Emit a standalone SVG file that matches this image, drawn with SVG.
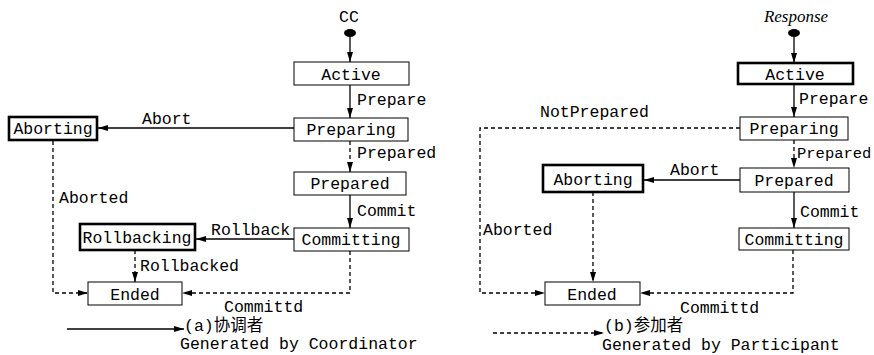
<svg xmlns="http://www.w3.org/2000/svg" width="874" height="355" viewBox="0 0 874 355">
<style>
text{font-family:"Liberation Mono","Noto Sans CJK SC",monospace;font-size:16.5px;fill:#000}
.c{text-anchor:middle}
.b{fill:#fff;stroke:#000;stroke-width:1}
.t{fill:#fff;stroke:#000;stroke-width:2.6}
.s{fill:none;stroke:#000;stroke-width:1.3}
.d{fill:none;stroke:#000;stroke-width:1.3;stroke-dasharray:4 3}
.it{font-family:"Liberation Serif",serif;font-style:italic;font-size:17px}
</style>
<defs>
<marker id="ah" viewBox="0 0 10 6" refX="10" refY="3" markerWidth="10" markerHeight="6" orient="auto" markerUnits="userSpaceOnUse"><path d="M0,0 L10,3 L0,6 z" fill="#000"/></marker>
</defs>
<g id="connectors">
<line class="s" x1="350" y1="37" x2="350" y2="62" marker-end="url(#ah)"/>
<line class="s" x1="350" y1="85" x2="350" y2="118" marker-end="url(#ah)"/>
<line class="s" x1="294" y1="128" x2="98" y2="128" marker-end="url(#ah)" stroke-width="1"/>
<line class="d" x1="350" y1="141" x2="350" y2="172" marker-end="url(#ah)"/>
<line class="s" x1="350" y1="195" x2="350" y2="228" marker-end="url(#ah)"/>
<line class="s" x1="294" y1="239" x2="196" y2="239" marker-end="url(#ah)" stroke-width="1"/>
<line class="d" x1="135" y1="250" x2="135" y2="282" marker-end="url(#ah)"/>
<polyline class="d" points="53,141 53,293 88,293" marker-end="url(#ah)"/>
<polyline class="d" points="350,251 350,293 182,293" marker-end="url(#ah)"/>
<line class="s" x1="67" y1="329" x2="184" y2="329" marker-end="url(#ah)" stroke-width="1"/>
<line class="s" x1="794" y1="37" x2="794" y2="63" marker-end="url(#ah)"/>
<line class="s" x1="794" y1="84" x2="794" y2="117" marker-end="url(#ah)"/>
<polyline class="d" points="740,128 480,128 480,293 545,293" marker-end="url(#ah)"/>
<line class="d" x1="794" y1="140" x2="794" y2="168" marker-end="url(#ah)"/>
<line class="s" x1="740" y1="180" x2="644" y2="180" marker-end="url(#ah)" stroke-width="1"/>
<line class="s" x1="794" y1="192" x2="794" y2="228" marker-end="url(#ah)"/>
<line class="d" x1="593" y1="192" x2="593" y2="282" marker-end="url(#ah)"/>
<polyline class="d" points="793,250 793,293 640,293" marker-end="url(#ah)"/>
<line class="d" x1="493" y1="333" x2="604" y2="333" marker-end="url(#ah)"/>
</g>
<g id="labels">
<text x="357" y="105">Prepare</text>
<text x="142" y="124">Abort</text>
<text x="357" y="158">Prepared</text>
<text x="357" y="216">Commit</text>
<text x="211" y="235">Rollback</text>
<text x="140" y="271">Rollbacked</text>
<text x="59" y="203">Aborted</text>
<text x="224" y="312">Committd</text>
<text x="184" y="331">(a)协调者</text>
<text x="180" y="349">Generated by Coordinator</text>
<text x="799" y="104">Prepare</text>
<text x="540" y="117">NotPrepared</text>
<text x="797" y="158" style="font-size:15.5px">Prepared</text>
<text x="670" y="175">Abort</text>
<text x="800" y="217">Commit</text>
<text x="483" y="235">Aborted</text>
<text x="680" y="313">Committd</text>
<text x="604" y="331">(b)参加者</text>
<text x="602" y="350">Generated by Participant</text>
</g>
<g id="startA"><text class="c" x="349" y="22">CC</text><ellipse cx="350" cy="33" rx="6" ry="4" fill="#000"/></g>
<g id="activeA"><rect class="b" x="294" y="62" width="115" height="23"/><text class="c" x="351" y="80">Active</text></g>
<g id="preparingA"><rect class="b" x="294" y="118" width="114" height="23"/><text class="c" x="351" y="135">Preparing</text></g>
<g id="abortingA"><rect class="t" x="9" y="117" width="88" height="23"/><text class="c" x="53" y="134">Aborting</text></g>
<g id="preparedA"><rect class="b" x="294" y="172" width="112" height="23"/><text class="c" x="350" y="189">Prepared</text></g>
<g id="committingA"><rect class="b" x="294" y="228" width="115" height="23"/><text class="c" x="351" y="245">Committing</text></g>
<g id="rollbackingA"><rect class="t" x="80" y="224" width="115" height="26"/><text class="c" x="137" y="243">Rollbacking</text></g>
<g id="endedA"><rect class="b" x="88" y="282" width="94" height="23"/><text class="c" x="135" y="300">Ended</text></g>
<g id="startB"><text class="c it" x="796" y="22">Response</text><ellipse cx="794" cy="33" rx="6" ry="4" fill="#000"/></g>
<g id="activeB"><rect class="t" x="738" y="63" width="115" height="21"/><text class="c" x="795" y="80">Active</text></g>
<g id="preparingB"><rect class="b" x="740" y="117" width="108" height="23"/><text class="c" x="794" y="134">Preparing</text></g>
<g id="preparedB"><rect class="b" x="740" y="168" width="109" height="24"/><text class="c" x="794" y="186">Prepared</text></g>
<g id="abortingB"><rect class="t" x="543" y="165" width="100" height="27"/><text class="c" x="593" y="185">Aborting</text></g>
<g id="committingB"><rect class="b" x="739" y="228" width="110" height="22"/><text class="c" x="794" y="245">Committing</text></g>
<g id="endedB"><rect class="b" x="545" y="282" width="95" height="23"/><text class="c" x="592" y="300">Ended</text></g>
</svg>
